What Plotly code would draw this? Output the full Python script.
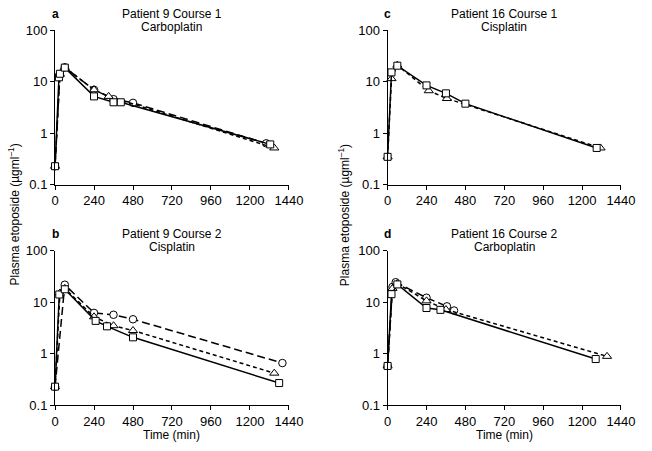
import plotly.graph_objects as go

# ---------------- data (time in min, plasma etoposide in ug/ml) ----------------
x_ticks = [0, 240, 480, 720, 960, 1200, 1440]
x_tick_labels = ["0", "240", "480", "720", "960", "1200", "1440"]
y_ticks = [0.1, 1, 10, 100]
y_tick_labels = ["0.1", "1", "10", "100"]

# panel a: Patient 9 Course 1, Carboplatin
a_circle_t = [0, 30, 60, 240, 360, 480, 1300]
a_circle_c = [0.23, 14.0, 19.0, 7.0, 4.6, 3.9, 0.64]
a_triangle_t = [0, 30, 60, 240, 330, 1350]
a_triangle_c = [0.23, 14.0, 19.0, 7.0, 5.2, 0.52]
a_square_t = [0, 24, 30, 60, 240, 360, 405, 1325]
a_square_c = [0.23, 12.2, 14.3, 18.8, 5.2, 4.0, 4.0, 0.61]

# panel b: Patient 9 Course 2, Cisplatin
b_circle_t = [0, 60, 240, 360, 480, 1400]
b_circle_c = [0.23, 21.8, 6.2, 5.7, 4.66, 0.66]
b_triangle_t = [0, 30, 60, 240, 360, 480, 1350]
b_triangle_c = [0.23, 15.0, 18.5, 5.2, 3.5, 2.82, 0.42]
b_square_t = [0, 26, 60, 250, 320, 480, 1380]
b_square_c = [0.23, 14.1, 17.8, 4.34, 3.4, 2.08, 0.27]

# panel c: Patient 16 Course 1, Cisplatin
c_triangle_t = [0, 24, 60, 254, 366, 1314]
c_triangle_c = [0.35, 11.5, 21.0, 6.7, 4.73, 0.52]
c_square_t = [0, 24, 60, 240, 360, 480, 1290]
c_square_c = [0.35, 15.2, 20.5, 8.5, 5.96, 3.76, 0.52]

# panel d: Patient 16 Course 2, Carboplatin
d_circle_t = [0, 30, 50, 240, 366, 410]
d_circle_c = [0.58, 19.7, 24.4, 12.2, 8.3, 6.9]
d_triangle_t = [0, 30, 60, 240, 360, 1354]
d_triangle_c = [0.58, 18.5, 23.0, 10.6, 7.2, 0.89]
d_square_t = [0, 24, 60, 240, 326, 1284]
d_square_c = [0.58, 14.3, 22.1, 7.7, 7.1, 0.79]

panel_letters = ["a", "c", "b", "d"]
panel_titles = ["Patient 9 Course 1", "Patient 16 Course 1", "Patient 9 Course 2", "Patient 16 Course 2"]
panel_drugs = ["Carboplatin", "Cisplatin", "Cisplatin", "Carboplatin"]
y_title = "Plasma etoposide (\u00b5gml<sup>\u20131</sup>)"
x_title = "Time (min)"

# ---------------- layout geometry ----------------
W, H = 652, 451
FONT = "Liberation Sans, Arial, Helvetica, sans-serif"
col_px = [(52.5, 293.0), (394.5, 634.5)]
row_px = [(24.0, 184.0), (252.0, 412.0)]

def px(x):
    return x / W

def py(y):
    return 1 - y / H

styles = {
    "circle": dict(symbol="circle", dash="8px,4px", size=7.5),
    "triangle": dict(symbol="triangle-up", dash="4px,3px", size=8),
    "square": dict(symbol="square", dash="solid", size=7),
}

panels = [
    [("circle", a_circle_t, a_circle_c), ("triangle", a_triangle_t, a_triangle_c), ("square", a_square_t, a_square_c)],
    [("triangle", c_triangle_t, c_triangle_c), ("square", c_square_t, c_square_c)],
    [("circle", b_circle_t, b_circle_c), ("triangle", b_triangle_t, b_triangle_c), ("square", b_square_t, b_square_c)],
    [("circle", d_circle_t, d_circle_c), ("triangle", d_triangle_t, d_triangle_c), ("square", d_square_t, d_square_c)],
]

fig = go.Figure()
layout = dict(
    width=W, height=H, margin=dict(l=0, r=0, t=0, b=0),
    paper_bgcolor="white", plot_bgcolor="white", showlegend=False,
    font=dict(family=FONT, size=12, color="black"),
)
annotations = []

for i, series in enumerate(panels):
    r, c = divmod(i, 2)
    idx = "" if i == 0 else str(i + 1)
    x0, x1 = col_px[c]
    y0, y1 = row_px[r]
    layout["xaxis" + idx] = dict(
        domain=[px(x0), px(x1)], anchor="y" + idx, range=[0, 1440],
        tickvals=x_ticks, ticktext=x_tick_labels, ticks="outside", ticklen=4,
        tickwidth=1, tickcolor="black", showline=True, linecolor="black", linewidth=1,
        showgrid=False, zeroline=False, tickfont=dict(size=13, family=FONT, color="black"),
    )
    layout["yaxis" + idx] = dict(
        domain=[py(y1), py(y0)], anchor="x" + idx, type="log", range=[-1, 2],
        tickvals=y_ticks, ticktext=y_tick_labels, ticks="outside", ticklen=4,
        tickwidth=1, tickcolor="black", showline=True, linecolor="black", linewidth=1,
        showgrid=False, zeroline=False, tickfont=dict(size=13, family=FONT, color="black"),
    )
    for name, t, conc in series:
        st = styles[name]
        fig.add_trace(go.Scatter(
            x=t, y=conc, mode="lines+markers", xaxis="x" + idx, yaxis="y" + idx,
            cliponaxis=False,
            line=dict(color="black", width=1.5, dash=st["dash"]),
            marker=dict(symbol=st["symbol"], size=st["size"], color="white",
                        line=dict(color="black", width=1)),
        ))
    cx = (x0 + x1) / 2
    ty = 7.5 if r == 0 else 235.0
    annotations.append(dict(text=panel_titles[i], x=px(cx), y=py(ty), xref="paper", yref="paper",
                            xanchor="center", yanchor="middle", showarrow=False,
                            font=dict(size=12, family=FONT, color="black")))
    annotations.append(dict(text=panel_drugs[i], x=px(cx), y=py(ty + 13.5), xref="paper", yref="paper",
                            xanchor="center", yanchor="middle", showarrow=False,
                            font=dict(size=12, family=FONT, color="black")))
    annotations.append(dict(text="<b>" + panel_letters[i] + "</b>", x=px(x0), y=py(ty), xref="paper",
                            yref="paper", xanchor="center", yanchor="middle", showarrow=False,
                            font=dict(size=12, family=FONT, color="black")))
    if r == 1:
        annotations.append(dict(text=x_title, x=px(cx), y=py(443), xref="paper", yref="paper",
                                xanchor="center", yanchor="middle", showarrow=False,
                                font=dict(size=12, family=FONT, color="black")))

for xc in (10, 349):
    annotations.append(dict(text=y_title, x=px(xc), y=py(215), xref="paper", yref="paper",
                            xanchor="center", yanchor="middle", textangle=-90, showarrow=False,
                            font=dict(size=12, family=FONT, color="black")))

layout["annotations"] = annotations
fig.update_layout(**layout)
fig.write_html(
    "out.html",
    config={"displayModeBar": False},
    post_script="document.body.style.margin='0';document.body.style.overflow='hidden';",
)
